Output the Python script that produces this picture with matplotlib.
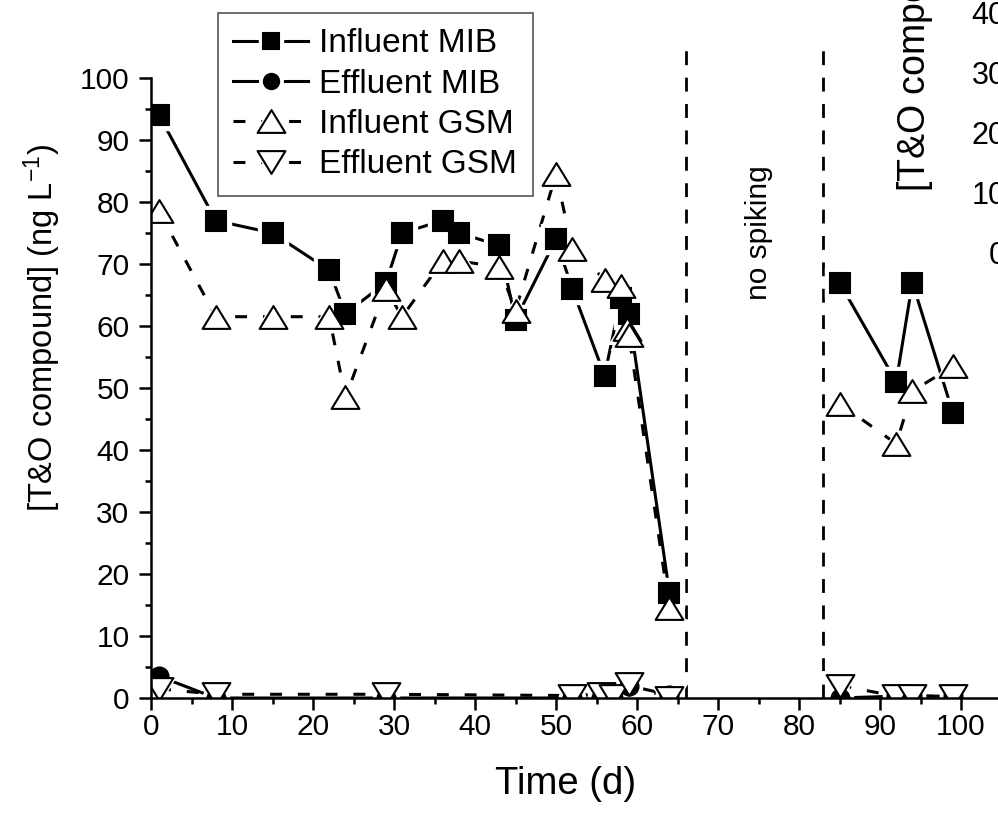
import numpy as np
import matplotlib.pyplot as plt
from matplotlib.lines import Line2D
from matplotlib.path import Path
from matplotlib.ticker import MultipleLocator

plt.rcParams['font.family'] = ['Liberation Sans', 'DejaVu Sans']
plt.rcParams['mathtext.fontset'] = 'custom'
plt.rcParams['mathtext.rm'] = 'Liberation Sans'
plt.rcParams['mathtext.default'] = 'regular'

# data, days vs ng/L  (nan = break for the no-spiking period)
inf_mib_days = [1, 8, 15, 22, 24, 29, 31, 36, 38, 43, 45, 50, 52, 56, 58, 59, 64, np.nan, 85, 92, 94, 99]
inf_mib = [94, 77, 75, 69, 62, 67, 75, 77, 75, 73, 61, 74, 66, 52, 64.5, 62, 17, np.nan, 67, 51, 67, 46]

inf_gsm_days = [1, 8, 15, 22, 24, 29, 31, 36, 38, 43, 45, 50, 52, 56, 58, 58.8, 59, 64, np.nan, 85, 92, 94, 99]
inf_gsm = [78.5, 61.5, 61.5, 61.5, 48.5, 66, 61.5, 70.5, 70.5, 69.5, 62.5, 84.5, 72.5, 67.5, 66.5, 59.5, 58.5, 14.5,
           np.nan, 47.5, 41, 49.5, 53.5]

eff_days = [1, 8, 29, 52, 55.5, 57, 59, 64, np.nan, 85, 92, 94, 99]
eff_mib = [3.5, 0, 0, 0, 0, 0, 2, 0.5, np.nan, 0, 0.3, 0.3, 0.3]
eff_gsm = [1.5, 0.6, 0.6, 0.4, 0.6, 0.4, 2.2, 0, np.nan, 2.0, 0.3, 0.3, 0.3]

labels = ['Influent MIB', 'Effluent MIB', 'Influent GSM', 'Effluent GSM']
spike_stop = [66, 83]
right_ticks = [0, 10, 20, 30, 40]

tri_up = Path([(-1, -0.82), (1, -0.82), (0, 0.82), (-1, -0.82)], closed=True)
tri_down = Path([(-1, 0.82), (1, 0.82), (0, -0.82), (-1, 0.82)], closed=True)
dash = (3.9, 5.2)
lw = 2.2

fig = plt.figure(figsize=(9.98, 8.16), dpi=100)
ax = fig.add_axes([151 / 998, 118 / 816, 850.5 / 998, 620 / 816])


def series(x, y, marker, ms, fc, dashed):
    line, = ax.plot(x, y, color='black', lw=lw, zorder=2)
    if dashed:
        line.set_dashes(dash)
    ax.plot(x, y, ls='none', marker=marker, ms=ms + 6, mfc='white', mec='white', zorder=3)
    ax.plot(x, y, ls='none', marker=marker, ms=ms, mfc=fc, mec='black', mew=1.5, zorder=4)


series(inf_mib_days, inf_mib, 's', 15, 'black', False)
series(eff_days, eff_mib, 'o', 13, 'black', False)
series(inf_gsm_days, inf_gsm, tri_up, 20, 'white', True)
series(eff_days, eff_gsm, tri_down, 20, 'white', True)

for d in spike_stop:
    vl, = ax.plot([d, d], [0, 105.3], color='black', lw=2.0, clip_on=False, zorder=2)
    vl.set_dashes((5, 4.5))

ax.text(75, 75, 'no spiking', rotation=90, ha='center', va='center', fontsize=21.5)

ax.set_xlim(0, 105)
ax.set_ylim(0, 100)
ax.set_xticks(np.arange(0, 101, 10))
ax.set_yticks(np.arange(0, 101, 10))
ax.xaxis.set_minor_locator(MultipleLocator(5))
ax.yaxis.set_minor_locator(MultipleLocator(5))
ax.tick_params(which='major', length=8.5, width=1.8, labelsize=21.5)
ax.tick_params(which='minor', length=4, width=1.8)
ax.tick_params(axis='x', pad=2)
ax.tick_params(axis='y', pad=7)
for s in ['top', 'right']:
    ax.spines[s].set_visible(False)
for s in ['left', 'bottom']:
    ax.spines[s].set_linewidth(1.8)
    ax.spines[s].set_zorder(5)

ax.set_xlabel('Time (d)', fontsize=27.5)
ax.xaxis.set_label_coords(0.487, -0.11)
ax.set_ylabel('[T&O compound] (ng L$^{-1}$)', fontsize=23.5)
ax.yaxis.set_label_coords(-0.104, 0.597)


def proxy(marker, ms, fc, dashed):
    ln = Line2D([], [], color='black', lw=lw)
    if dashed:
        ln.set_dashes(dash)
    halo = Line2D([], [], ls='none', marker=marker, ms=ms + 6, mfc='white', mec='white')
    mk = Line2D([], [], ls='none', marker=marker, ms=ms, mfc=fc, mec='black', mew=1.5)
    return (ln, halo, mk)


handles = [proxy('s', 11, 'black', False), proxy('o', 11, 'black', False),
           proxy(tri_up, 20, 'white', True), proxy(tri_down, 20, 'white', True)]
leg = ax.legend(handles, labels, loc='upper left', bbox_to_anchor=(217.7 / 998, 1 - 12.7 / 816),
                bbox_transform=fig.transFigure, borderaxespad=0, fontsize=24, handlelength=2.25,
                handletextpad=0.33, borderpad=0.47, labelspacing=0.28, fancybox=False, framealpha=1)
leg.get_frame().set_edgecolor('#555555')
leg.get_frame().set_linewidth(1.2)

# neighbouring panel, cut off at the right edge
ax2 = fig.add_axes([1026 / 998, 563 / 816, 0.3, 300 / 816])
ax2.set_ylim(0, 50)
ax2.set_yticks(right_ticks)
ax2.set_xticks([])
ax2.tick_params(length=8.5, width=1.8, labelsize=22, pad=6)
ax2.patch.set_visible(False)
for s in ax2.spines.values():
    s.set_visible(False)
fig.text(913 / 998, 1 - 192 / 816, '[T&O compound] (ng L$^{-1}$)', rotation=90,
         ha='center', va='bottom', fontsize=27)

fig.savefig('out.png', dpi=100)
